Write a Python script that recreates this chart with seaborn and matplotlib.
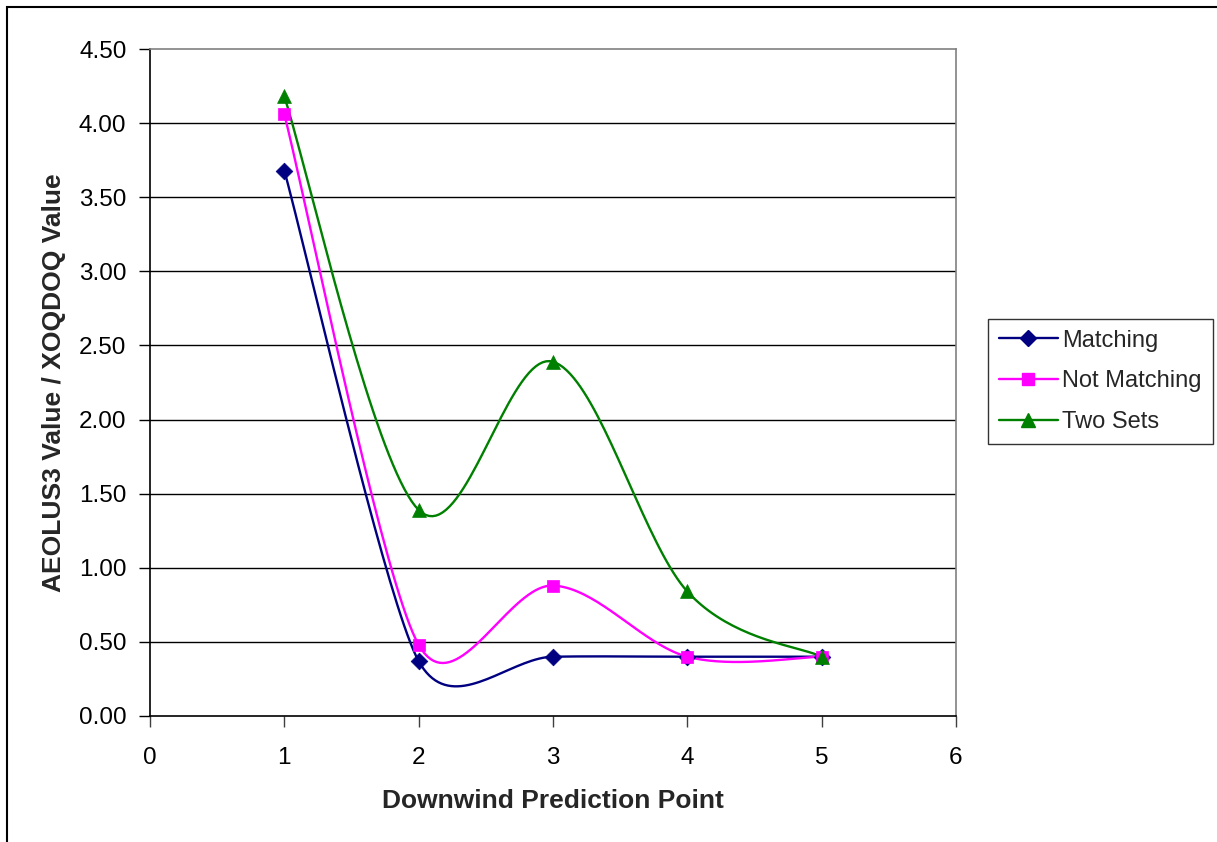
import numpy as np
import pandas as pd
import matplotlib
matplotlib.use("Agg")
import matplotlib.pyplot as plt
from matplotlib.lines import Line2D
from matplotlib.patches import Rectangle
import seaborn as sns

points = [1, 2, 3, 4, 5]
matching = [3.68, 0.37, 0.40, 0.40, 0.40]
not_matching = [4.06, 0.48, 0.88, 0.40, 0.40]
two_sets = [4.18, 1.39, 2.39, 0.84, 0.40]
series_names = ["Matching", "Not Matching", "Two Sets"]
colors = ["#000080", "#FF00FF", "#008000"]
markers = ["D", "s", "^"]
marker_sizes = [8.5, 9, 10]
yticks = [0.0, 0.5, 1.0, 1.5, 2.0, 2.5, 3.0, 3.5, 4.0, 4.5]
xticks = [0, 1, 2, 3, 4, 5, 6]


def excel_smooth(ax, xs, ys, n=40):
    """Excel-style smoothed line (Bezier, tension 1/6 with length limiting),
    computed in display space so it follows the axes scales."""
    P = ax.transData.transform(np.column_stack([xs, ys]).astype(float))
    N = len(P)
    ctrl_out = []
    ctrl_in = []
    for i in range(N):
        p0 = P[i - 1] if i > 0 else P[i]
        p1 = P[i]
        p2 = P[i + 1] if i + 1 < N else P[i]
        f = 1.0 / 6.0
        if 0 < i < N - 1:
            d01 = np.linalg.norm(p1 - p0)
            d12 = np.linalg.norm(p2 - p1)
            d02 = np.linalg.norm(p2 - p0)
            if d02 > 0 and not (d02 / 6 < d12 / 2 and d02 / 6 < d01 / 2):
                f = min(d01, d12) / (2 * d02)
        ctrl_in.append(p1 - (p2 - p0) * f)
        ctrl_out.append(p1 + (p2 - p0) * f)
    out = []
    t = np.linspace(0, 1, n)[:, None]
    for i in range(N - 1):
        a, b, c, d = P[i], ctrl_out[i], ctrl_in[i + 1], P[i + 1]
        seg = ((1 - t) ** 3) * a + 3 * ((1 - t) ** 2) * t * b + 3 * (1 - t) * t ** 2 * c + t ** 3 * d
        out.append(seg if i == 0 else seg[1:])
    arr = np.vstack(out)
    data = ax.transData.inverted().transform(arr)
    return data[:, 0], data[:, 1]


sns.set_theme(style="white")
plt.rcParams["font.family"] = ["Liberation Sans", "DejaVu Sans"]

fig = plt.figure(figsize=(12.17, 8.42), dpi=100)
fig.patch.set_facecolor("white")
ax = fig.add_axes([150 / 1217, 1 - 716 / 842, 806 / 1217, 667 / 842])
ax.set_xlim(0, 6)
ax.set_ylim(0, 4.5)

all_series = [matching, not_matching, two_sets]
handles = []
for name, vals, c, m, ms in zip(series_names, all_series, colors, markers, marker_sizes):
    sx, sy = excel_smooth(ax, points, vals)
    curve = pd.DataFrame({"x": sx, "y": sy})
    sns.lineplot(data=curve, x="x", y="y", sort=False, estimator=None, ax=ax,
                 color=c, linewidth=1.7, zorder=3)
    pts = pd.DataFrame({"x": points, "y": vals})
    sns.scatterplot(data=pts, x="x", y="y", ax=ax, color=c, marker=m, s=ms ** 2,
                    edgecolor=c, linewidth=0.5, zorder=4)
    handles.append(Line2D([0], [0], color=c, lw=1.7, marker=m, markersize=ms,
                          markeredgecolor=c, label=name))

ax.set_xlim(0, 6)
ax.set_ylim(0, 4.5)
ax.set_xticks(xticks)
ax.set_yticks(yticks)
ax.set_yticklabels([f"{v:.2f}" for v in yticks])
ax.set_xticklabels([str(v) for v in xticks])
for yv in yticks[1:-1]:
    ax.axhline(yv, color="black", linewidth=1.0, zorder=1)
ax.tick_params(axis="y", which="major", labelsize=17.5, direction="out",
               length=8, width=1, color="black", labelcolor="black", left=True, pad=9)
ax.tick_params(axis="x", which="major", labelsize=17.5, direction="out",
               length=8, width=1, color="#404040", labelcolor="black", bottom=True, pad=14)
for s in ["left", "bottom"]:
    ax.spines[s].set_color("black")
    ax.spines[s].set_linewidth(1.2)
for s in ["top", "right"]:
    ax.spines[s].set_color("#808080")
    ax.spines[s].set_linewidth(1.2)

ax.set_xlabel("Downwind Prediction Point", fontsize=19, fontweight="bold", labelpad=15)
ax.set_ylabel("AEOLUS3 Value / XOQDOQ Value", fontsize=19, fontweight="bold", labelpad=9)

leg = fig.legend(handles=handles, loc="center left",
                 bbox_to_anchor=(988 / 1217, 1 - 381.5 / 842), fontsize=17,
                 frameon=True, fancybox=False, handlelength=2.5, handletextpad=0.2,
                 borderpad=0.45, borderaxespad=0, labelspacing=0.8)
leg.get_frame().set_edgecolor("black")
leg.get_frame().set_linewidth(1.0)

fig.patches.append(Rectangle((7 / 1217, -0.05), 1.1, 1 - 7 / 842 + 0.05,
                             transform=fig.transFigure, fill=False,
                             edgecolor="black", linewidth=1.5, zorder=0))

fig.savefig("out.png", dpi=100, facecolor="white")
